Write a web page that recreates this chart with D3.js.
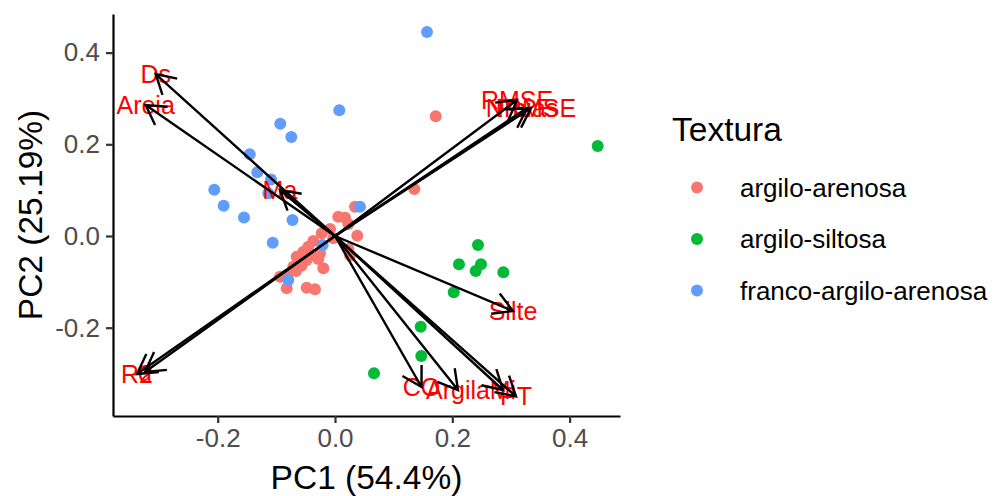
<!DOCTYPE html>
<html>
<head>
<meta charset="utf-8">
<script src="https://cdn.jsdelivr.net/npm/d3@7"></script>
<style>
  body { margin: 0; background: #fff; }
  text { font-family: "Liberation Sans", Arial, sans-serif; }
</style>
</head>
<body>
<div id="chart"></div>
<script>
// PCA scores per texture class [PC1, PC2]
const argiloArenosa = [
    [0.1717, 0.2611], [0.1352, 0.1025], [0.0341, 0.0639], [0.0056, 0.0421],
    [0.0171, 0.0399], [0.0227, 0.0262], [-0.0085, 0.0153], [-0.0227, 0.0059],
    [0.0380, 0.0007], [-0.0029, -0.0050], [-0.0370, -0.0109], [-0.0455, -0.0233],
    [-0.0540, -0.0342], [-0.0370, -0.0425], [-0.0256, -0.0377], [0.0227, -0.0284],
    [0.0256, -0.0425], [-0.0653, -0.0451], [-0.0483, -0.0523], [-0.0285, -0.0502],
    [-0.0199, -0.0704], [-0.0711, -0.0670], [-0.0568, -0.0643], [-0.0938, -0.0888],
    [-0.0824, -0.0851], [-0.0824, -0.1141], [-0.0483, -0.1128], [-0.0341, -0.1163],
    [-0.0665, -0.0763]
];
const argiloSiltosa = [
    [0.2438, -0.0196], [0.2114, -0.0617], [0.2489, -0.0617], [0.2399, -0.0763],
    [0.2870, -0.0792], [0.2024, -0.1228], [0.1461, -0.1978], [0.1471, -0.2617],
    [0.0665, -0.2995], [0.4479, 0.1963]
];
const francoArgiloArenosa = [
    [0.1569, 0.4449], [0.0073, 0.2742], [-0.0933, 0.2449], [-0.0745, 0.2159],
    [-0.1454, 0.1782], [-0.1325, 0.1389], [-0.1091, 0.1232], [-0.2058, 0.1010],
    [-0.1137, 0.0931], [-0.1898, 0.0661], [-0.1552, 0.0403], [-0.0725, 0.0349],
    [0.0426, 0.0639], [-0.1062, -0.0146], [-0.0210, -0.0196], [-0.0796, -0.0960]
];

const classes = ["argilo-arenosa", "argilo-siltosa", "franco-argilo-arenosa"];
const classColors = ["#F8766D", "#00BA38", "#619CFF"];

// variable loadings (arrow ends)
const varNames = ["Ds", "Areia", "Ma", "R2", "d", "RMSE", "NRMSE", "Pbias",
    "Silte", "CO", "Argila", "Mi", "PT"];
const varPC1 = [-0.3057, -0.3228, -0.0938, -0.3376, -0.3240, 0.3103, 0.3342, 0.3274,
    0.3035, 0.1475, 0.2097, 0.2864, 0.3086];
const varPC2 = [0.3533, 0.2857, 0.1003, -0.3010, -0.2966, 0.2966, 0.2792, 0.2792,
    -0.1636, -0.3293, -0.3359, -0.3359, -0.3500];

const xTicks = [-0.2, 0.0, 0.2, 0.4];
const yTicks = [-0.2, 0.0, 0.2, 0.4];
const xTitle = "PC1 (54.4%)", yTitle = "PC2 (25.19%)", legendTitle = "Textura";

const W = 994, H = 496;
const panel = {left: 113, right: 620, top: 14, bottom: 416};

const svg = d3.select("#chart")
    .append("svg")
    .attr("width", W)
    .attr("height", H);

const x = d3.scaleLinear()
    .domain([-0.3785, 0.4859])
    .range([panel.left, panel.right]);
const y = d3.scaleLinear()
    .domain([-0.3926, 0.4842])
    .range([panel.bottom, panel.top]);

const fmt = d => d3.format(".1f")(d).replace("−", "-");

// axes
const xAxis = svg.append("g")
    .attr("transform", `translate(0, ${panel.bottom})`)
    .call(d3.axisBottom(x).tickValues(xTicks).tickFormat(fmt).tickSize(7).tickSizeOuter(0).tickPadding(6));
const yAxis = svg.append("g")
    .attr("transform", `translate(${panel.left}, 0)`)
    .call(d3.axisLeft(y).tickValues(yTicks).tickFormat(fmt).tickSize(7).tickSizeOuter(0).tickPadding(6));

[xAxis, yAxis].forEach(a => {
    a.select(".domain").attr("stroke", "#000").attr("stroke-width", 2.2);
    a.selectAll(".tick line").attr("stroke", "#333").attr("stroke-width", 2.2);
    a.selectAll(".tick text")
        .attr("fill", "#4D4D4D")
        .style("font-size", "26px")
        .style("font-family", "Liberation Sans, Arial, sans-serif");
});

svg.append("text")
    .attr("x", (panel.left + panel.right) / 2)
    .attr("y", 489)
    .attr("text-anchor", "middle")
    .style("font-size", "33.5px")
    .text(xTitle);
svg.append("text")
    .attr("transform", `translate(42, ${(panel.top + panel.bottom) / 2}) rotate(-90)`)
    .attr("text-anchor", "middle")
    .style("font-size", "33.5px")
    .text(yTitle);

// points
const groups = [argiloArenosa, argiloSiltosa, francoArgiloArenosa];
groups.forEach((pts, i) => {
    svg.append("g")
        .selectAll("circle")
        .data(pts)
        .join("circle")
        .attr("cx", d => x(d[0]))
        .attr("cy", d => y(d[1]))
        .attr("r", 6)
        .attr("fill", classColors[i]);
});

// variable labels
const vars = varNames.map((n, i) => ({name: n, pc1: varPC1[i], pc2: varPC2[i]}));
svg.append("g")
    .selectAll("text")
    .data(vars)
    .join("text")
    .attr("x", d => x(d.pc1))
    .attr("y", d => y(d.pc2))
    .attr("dy", "0.35em")
    .attr("text-anchor", "middle")
    .attr("fill", "#FF0000")
    .style("font-size", "25px")
    .text(d => d.name);

// arrows
const headLen = 22, headAngle = Math.PI / 6;
const arrows = svg.append("g")
    .attr("stroke", "#000")
    .attr("stroke-width", 2.4)
    .attr("fill", "none")
    .attr("stroke-linecap", "butt");
arrows.selectAll("path")
    .data(vars)
    .join("path")
    .attr("d", d => {
        const x0 = x(0), y0 = y(0), x1 = x(d.pc1), y1 = y(d.pc2);
        const a = Math.atan2(y0 - y1, x0 - x1);
        const b1 = [x1 + headLen * Math.cos(a + headAngle), y1 + headLen * Math.sin(a + headAngle)];
        const b2 = [x1 + headLen * Math.cos(a - headAngle), y1 + headLen * Math.sin(a - headAngle)];
        return `M${x0},${y0}L${x1},${y1}M${b1[0]},${b1[1]}L${x1},${y1}L${b2[0]},${b2[1]}`;
    });

// legend
const legend = svg.append("g");
legend.append("text")
    .attr("x", 672)
    .attr("y", 141)
    .style("font-size", "33.5px")
    .text(legendTitle);
const keyY = d3.scalePoint().domain(classes).range([187.5, 290.5]);
legend.selectAll("circle")
    .data(classes)
    .join("circle")
    .attr("cx", 697)
    .attr("cy", d => keyY(d))
    .attr("r", 6)
    .attr("fill", (d, i) => classColors[i]);
legend.selectAll("text.lab")
    .data(classes)
    .join("text")
    .attr("class", "lab")
    .attr("x", 740)
    .attr("y", d => keyY(d))
    .attr("dy", "0.35em")
    .style("font-size", "26px")
    .text(d => d);
</script>
</body>
</html>
